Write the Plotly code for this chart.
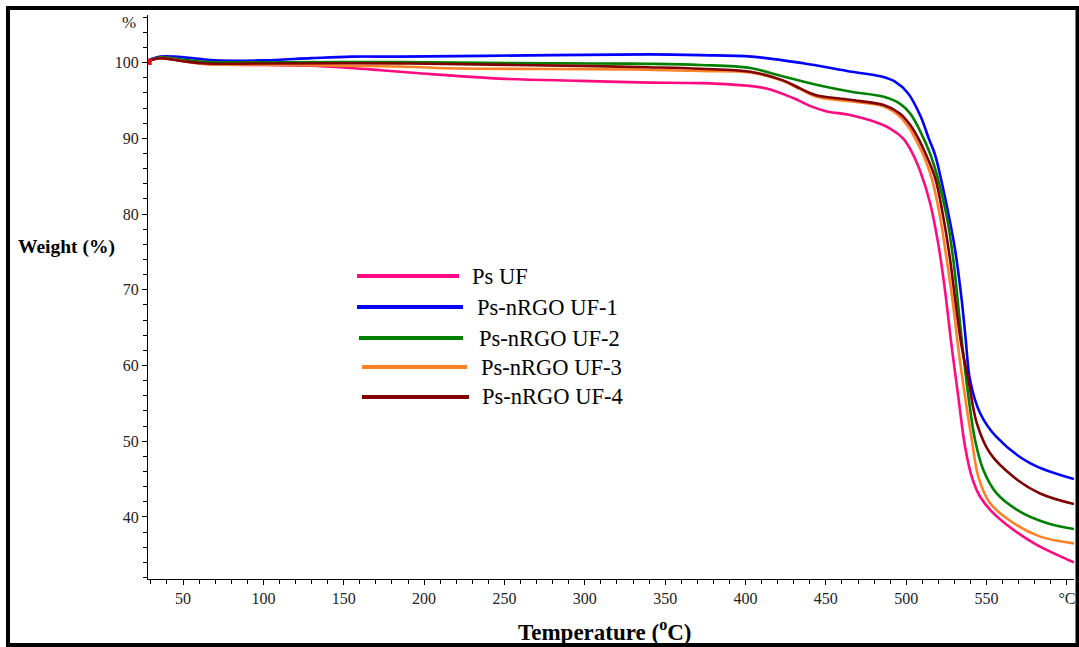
import plotly.graph_objects as go

# ---------------- data ----------------
series_names = ["Ps UF", "Ps-nRGO UF-1", "Ps-nRGO UF-2", "Ps-nRGO UF-3", "Ps-nRGO UF-4"]
series_colors = ["#FF0A80", "#0000FF", "#008000", "#FF8125", "#800000"]

temp_ps_uf = [28, 36, 54, 67, 100, 129, 154, 173, 197, 247, 297, 334, 372, 392, 413, 430,
              440, 450, 465, 479, 490, 498, 503.5, 509, 514.8, 519.9, 524.1, 528, 532.4,
              536.6, 540.8, 545.9, 554.2, 566.7, 581.2, 600, 604.4]
wt_ps_uf = [100.2, 100.6, 100.1, 99.8, 99.7, 99.6, 99.3, 99.0, 98.6, 97.9, 97.6, 97.4, 97.3,
            97.1, 96.6, 95.3, 94.3, 93.6, 93.1, 92.3, 91.3, 90.0, 88.2, 85.5, 81.5, 76.1,
            70.0, 63.0, 55.9, 49.3, 45.3, 42.7, 40.5, 38.3, 36.3, 34.4, 34.0]

temp_uf1 = [28, 36, 45, 60, 70, 100, 130, 155, 185, 280, 340, 372, 404, 435, 466, 484, 493,
            501, 509, 514, 518, 522, 526, 530.4, 534.5, 537, 539.7, 546, 556, 577, 604.4]
wt_uf1 = [100.3, 100.8, 100.8, 100.5, 100.3, 100.3, 100.6, 100.8, 100.8, 101.0, 101.1, 101.0,
          100.8, 99.95, 98.8, 98.2, 97.5, 96.0, 92.9, 90.0, 87.8, 84.3, 80.3, 75.3, 68.7,
          63.5, 58.1, 53.7, 50.6, 47.1, 45.0]

temp_uf2 = [28, 36, 50, 65, 100, 185, 256, 306, 339, 372, 403, 423, 444, 465, 486, 496,
            502.4, 508.6, 514.8, 520, 525.2, 529.3, 532.4, 535, 538.7, 542.8, 548, 556.3,
            570.8, 587.4, 604.4]
wt_uf2 = [100.2, 100.7, 100.4, 100.1, 100.05, 100.1, 99.95, 99.9, 99.85, 99.7, 99.3, 98.2,
          97.1, 96.2, 95.5, 94.6, 93.3, 91.0, 88.0, 84.5, 79.7, 74.0, 67.8, 62.5, 55.9, 50.2,
          46.2, 43.1, 40.7, 39.2, 38.4]

temp_uf3 = [28, 36, 50, 65, 100, 150, 185, 215, 277, 330, 372, 403, 423, 434, 444, 465, 486,
            496, 502.4, 506, 509.6, 515.8, 521, 525.2, 529.3, 532.4, 536.6, 540.8, 544.9,
            552.2, 566.7, 583.4, 604.4]
wt_uf3 = [100.2, 100.6, 100.2, 99.8, 99.75, 99.6, 99.5, 99.26, 99.17, 99.1, 98.9, 98.7,
          97.6, 96.5, 95.5, 94.9, 94.2, 92.9, 91.2, 89.8, 88.3, 84.8, 79.7, 74.0, 67.8, 62.3,
          55.9, 50.2, 45.3, 41.8, 39.2, 37.4, 36.5]

temp_uf4 = [28, 36, 50, 65, 100, 185, 257, 306, 339, 372, 403, 423, 434, 444, 465, 486, 496,
            502.4, 508, 512, 518, 523, 527.3, 531, 534.5, 538.7, 543.9, 552.2, 566.7, 583.3,
            604.4]
wt_uf4 = [100.2, 100.6, 100.2, 99.9, 99.9, 99.9, 99.7, 99.55, 99.4, 99.2, 98.8, 97.7, 96.6,
          95.7, 95.1, 94.4, 93.3, 91.8, 89.8, 88.0, 84.8, 79.7, 74.0, 67.8, 62.5, 58.1, 52.4,
          48.4, 45.3, 43.1, 41.7]

start_temp = [28.6]
start_wt = [100.1]

x_tick_vals = [50, 100, 150, 200, 250, 300, 350, 400, 450, 500, 550, 600]
x_tick_text = ["50", "100", "150", "200", "250", "300", "350", "400", "450", "500", "550", "°C"]
y_tick_vals = [40, 50, 60, 70, 80, 90, 100]
y_tick_text = ["40", "50", "60", "70", "80", "90", "100"]

x_range = [28.2, 604.4]
y_range = [31.8, 106.3]

# ---------------- layout geometry (pixels) ----------------
W, H = 1079, 647
L, R, T, B = 148, 5, 15, 68
PW, PH = W - L - R, H - T - B
FONT = "Liberation Serif, Times New Roman, serif"


def px_x(px):
    return (px - L) / PW


def px_y(py):
    return (H - B - py) / PH


temps = [temp_ps_uf, temp_uf1, temp_uf2, temp_uf3, temp_uf4]
wts = [wt_ps_uf, wt_uf1, wt_uf2, wt_uf3, wt_uf4]

fig = go.Figure()
for name, color, tx, wy in zip(series_names, series_colors, temps, wts):
    fig.add_trace(go.Scatter(x=tx, y=wy, mode="lines", name=name,
                             line=dict(color=color, width=2.6, shape="spline", smoothing=1.0),
                             showlegend=False))

fig.add_trace(go.Scatter(x=start_temp, y=start_wt, mode="markers",
                         marker=dict(symbol="square", size=6, color="#FF0000"),
                         showlegend=False))

shapes = []
annotations = []

# outer frame
shapes.append(dict(type="rect", xref="paper", yref="paper",
                   x0=px_x(8), x1=px_x(1077.5), y0=px_y(645), y1=px_y(8),
                   line=dict(color="black", width=4), fillcolor="rgba(0,0,0,0)"))

# legend (drawn manually to match long sample lines)
legend_rows = [
    (357, 459, 276, 470),
    (357, 463, 307, 475),
    (359, 463, 338, 477),
    (362, 467, 367, 479),
    (362, 469, 397, 480),
]
for (x0, x1, yy, tx), name, color in zip(legend_rows, series_names, series_colors):
    shapes.append(dict(type="line", xref="paper", yref="paper",
                       x0=px_x(x0), x1=px_x(x1), y0=px_y(yy), y1=px_y(yy),
                       line=dict(color=color, width=4)))
    annotations.append(dict(xref="paper", yref="paper", x=px_x(tx), y=px_y(yy),
                            text=name, showarrow=False, xanchor="left", yanchor="middle",
                            font=dict(family=FONT, size=22.5, color="black")))

# axis titles and unit labels
annotations.append(dict(xref="paper", yref="paper", x=px_x(16), y=px_y(247),
                        text="<b>Weight (%)</b>", showarrow=False, xanchor="left",
                        yanchor="middle", font=dict(family=FONT, size=19.5, color="black")))
annotations.append(dict(xref="paper", yref="paper", x=px_x(605), y=px_y(630),
                        text="<b>Temperature (<sup>o</sup>C)</b>", showarrow=False,
                        xanchor="center", yanchor="middle",
                        font=dict(family=FONT, size=23, color="black")))
annotations.append(dict(xref="paper", yref="paper", x=px_x(138), y=px_y(22),
                        text="%", showarrow=False, xanchor="right", yanchor="middle",
                        font=dict(family=FONT, size=17, color="#222")))

fig.update_layout(
    width=W, height=H,
    margin=dict(l=L, r=R, t=T, b=B, pad=0),
    paper_bgcolor="white", plot_bgcolor="white",
    shapes=shapes, annotations=annotations,
    showlegend=False,
    xaxis=dict(range=x_range, showgrid=False, zeroline=False,
               showline=True, linecolor="black", linewidth=1,
               ticks="outside", ticklen=5, tickcolor="black", tickwidth=1,
               tickvals=x_tick_vals, ticktext=x_tick_text,
               tickfont=dict(family=FONT, size=16, color="#222"),
               minor=dict(dtick=10, tick0=0, ticks="outside", ticklen=4,
                          tickcolor="black", showgrid=False)),
    yaxis=dict(range=y_range, showgrid=False, zeroline=False,
               showline=True, linecolor="black", linewidth=1,
               ticks="outside", ticklen=5, tickcolor="black", tickwidth=1,
               tickvals=y_tick_vals, ticktext=y_tick_text,
               tickfont=dict(family=FONT, size=16, color="#222"),
               minor=dict(dtick=2, tick0=0, ticks="outside", ticklen=4,
                          tickcolor="black", showgrid=False)),
)

fig.write_html("out.html")
